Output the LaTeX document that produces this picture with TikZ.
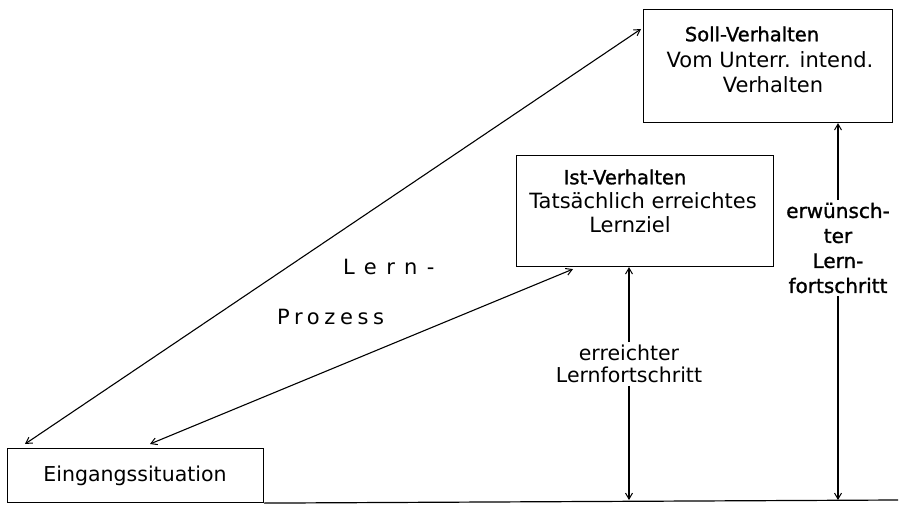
\documentclass[tikz,border=0pt]{standalone}
\usepackage{fontspec}
\setmainfont{DejaVu Sans}
\newfontfamily\headfont[FakeBold=1.2]{DejaVu Sans}
\usetikzlibrary{arrows.meta,calc}
\tikzset{
  box/.style={draw, line width=1.1pt, rectangle, inner sep=0pt, anchor=north west},
  txt/.style={inner sep=0pt, font=\fontsize{21}{24}\selectfont},
  head/.style={inner sep=0pt, font=\headfont\fontsize{19.5}{24}\selectfont},
  lbl/.style={inner sep=3pt, align=center},
  tip/.style={-{Straight Barb[length=6pt,width=7pt,line width=1pt]}, line width=1.1pt},
  both/.style={{Straight Barb[length=6pt,width=7pt,line width=1pt]}-{Straight Barb[length=6pt,width=7pt,line width=1pt]}, line width=1.1pt},
  plain/.style={line width=1.2pt}
}
\begin{document}
\begin{tikzpicture}[x=1pt,y=-1pt]
\useasboundingbox[fill=white] (0,0) rectangle (902,505);
% boxes
\node[box, minimum width=249pt, minimum height=113pt] (soll) at (643,9) {};
\node[box, minimum width=257pt, minimum height=111pt] (ist) at (516,155) {};
\node[box, minimum width=256pt, minimum height=54pt] (eing) at (7,448) {};
% box texts
\node[head] (sollh) at (752,34) {Soll-Verhalten};
\node[txt] (sollt1) at (770,60) {Vom Unterr. intend.};
\node[txt] (sollt2) at (773,85) {Verhalten};
\node[head] (isth) at (625,177) {Ist-Verhalten};
\node[txt] (istt1) at (643,201) {Tatsächlich erreichtes};
\node[txt] (istt2) at (630,225) {Lernziel};
\node[txt, font=\fontsize{20.5}{24}\selectfont] (eingt) at (135,476) {Eingangssituation};
% Lern-Prozess
\node[txt, anchor=west] (lern) at (343,267) {\addfontfeature{LetterSpace=45}Lern-};
\node[txt, anchor=west] (prozess) at (277,317) {\addfontfeature{LetterSpace=22}Prozess};
% side labels
\node[lbl, font=\fontsize{20.5}{21.5}\selectfont] (reach) at (629,364) {erreichter\\Lernfortschritt};
\node[lbl, font=\headfont\fontsize{20}{25}\selectfont] (want) at (838,248) {erwünsch-\\ter\\Lern-\\fortschritt};
% base line
\coordinate (baseend) at (898,500);
\draw[plain] (eing.south east) -- (baseend);
% connectors
\draw[both] ([shift={(18,-4)}]eing.north west) -- ([shift={(-2,20)}]soll.north west);
\draw[both] ([shift={(143,-4)}]eing.north west) -- ([shift={(57,2)}]ist.south west);
\draw[tip] (reach.north) -- (reach.north |- ist.south);
\draw[tip] (reach.south) -- (reach.south |- baseend);
\draw[tip] (want.north) -- (want.north |- soll.south);
\draw[tip] (want.south) -- (want.south |- baseend);
\end{tikzpicture}
\end{document}
